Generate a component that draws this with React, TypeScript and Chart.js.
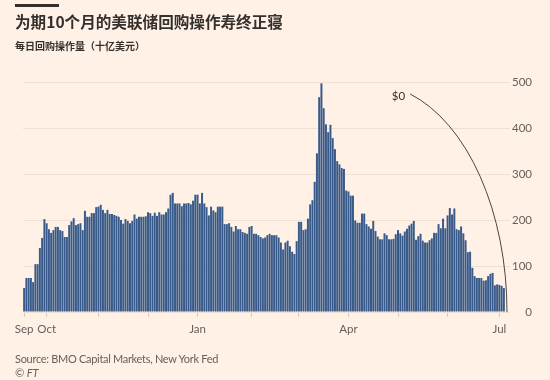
import React, { useEffect, useRef } from 'react';
import { Chart, registerables } from 'chart.js';

Chart.register(...registerables);

// ---- Text ----
const TITLE = '为期10个月的美联储回购操作寿终正寝';
const SUBTITLE = '每日回购操作量（十亿美元）';
const SOURCE = 'Source: BMO Capital Markets, New York Fed';
const CREDIT = '© FT';
const ZERO_LABEL = '$0';

// ---- Data: daily repo operations ($bn), one bar per business day ----
const sep = [52, 74, 74, 74, 65, 104, 104, 139, 161, 202];
const oct = [193, 180, 172, 178, 185, 185, 178, 176, 163, 163, 189, 197, 204, 189, 191, 193, 178, 220, 207, 207, 215, 215, 228];
const nov = [229, 233, 222, 215, 222, 213, 213, 211, 209, 207, 200, 192, 202, 198, 193, 198, 212, 203, 207, 207, 207, 208];
const dec = [217, 215, 209, 216, 209, 217, 212, 212, 217, 225, 255, 259, 236, 236, 236, 230, 236, 236, 237, 234, 242, 255];
const jan = [255, 236, 259, 236, 228, 210, 229, 221, 217, 229, 229, 229, 191, 191, 193, 185, 175, 187, 180, 180, 174, 172, 170, 185];
const feb = [187, 170, 170, 167, 163, 160, 162, 167, 170, 167, 167, 167, 162, 151, 136, 151, 155, 143, 131, 126, 154];
const mar = [196, 196, 178, 180, 203, 234, 243, 283, 345, 467, 497, 443, 408, 391, 407, 378, 354, 328, 321, 313, 311, 264];
const apr = [262, 253, 253, 199, 194, 194, 214, 214, 191, 186, 181, 198, 176, 164, 158, 158, 171, 167, 158, 158, 159, 169];
const may = [178, 171, 166, 175, 181, 188, 192, 198, 157, 165, 170, 155, 151, 151, 156, 160, 172, 172, 191, 182, 203, 182];
const jun = [210, 226, 212, 225, 180, 178, 186, 171, 156, 130, 131, 96, 78, 74, 74, 74, 68, 69, 78, 83, 85, 58, 60];
const jul = [59, 57, 52];

const months = [sep, oct, nov, dec, jan, feb, mar, apr, may, jun, jul];
const monthLabels = ['Sep', 'Oct', '', '', 'Jan', '', '', 'Apr', '', '', 'Jul'];
const yTickValues = [0, 100, 200, 300, 400, 500];

// ---- Style ----
const BG = '#fff1e5';
const BAR = '#375a8a';
const GRID = '#f1e0d2';
const TICK = '#d8cabd';
const AXIS_TEXT = '#66605c';
const DARK = '#33302e';
const LATIN = 'Lato, "Noto Sans", sans-serif';
const CJK = '"Noto Sans CJK SC", "Noto Sans", sans-serif';

export default function App() {
  const ref = useRef<HTMLCanvasElement>(null);

  useEffect(() => {
    document.body.style.margin = '0';
    document.body.style.background = BG;

    const values: number[] = [];
    const monthStarts: number[] = [];
    months.forEach((m) => {
      monthStarts.push(values.length);
      values.push(...m);
    });
    const labels = values.map((_, i) => String(i));

    const zeroCurve = {
      id: 'zeroCurve',
      afterDatasetsDraw(chart: any) {
        const { ctx, chartArea, scales } = chart;
        const y0 = scales.y.getPixelForValue(0);
        const endX = chartArea.right + 2;
        const rx = 137;
        const ry = 228;
        const cx = endX - rx;
        const start = -1.274;
        ctx.save();
        ctx.strokeStyle = '#4a4542';
        ctx.lineWidth = 1;
        ctx.beginPath();
        ctx.ellipse(cx, y0, rx, ry, 0, start, 0);
        ctx.stroke();
        const sx = cx + rx * Math.cos(start);
        const sy = y0 + ry * Math.sin(start);
        ctx.fillStyle = DARK;
        ctx.font = `11.5px ${LATIN}`;
        ctx.textAlign = 'right';
        ctx.textBaseline = 'middle';
        ctx.fillText(ZERO_LABEL, sx - 5, sy + 2);
        ctx.restore();
      },
    };

    const chart = new Chart(ref.current as HTMLCanvasElement, {
      type: 'bar',
      data: {
        labels,
        datasets: [
          {
            data: values,
            backgroundColor: BAR,
            borderWidth: 0,
            barPercentage: 0.88,
            categoryPercentage: 1,
          },
        ],
      },
      options: {
        animation: false,
        responsive: false,
        maintainAspectRatio: false,
        layout: { padding: { left: 23, right: 18, top: 82, bottom: 28 } },
        plugins: { legend: { display: false }, tooltip: { enabled: false } },
        scales: {
          x: {
            type: 'category',
            offset: true,
            grid: { offset: false, drawOnChartArea: false, drawTicks: true, tickLength: 5, color: TICK },
            border: { display: false },
            afterBuildTicks: (scale: any) => {
              scale.ticks = monthStarts.map((v) => ({ value: v }));
            },
            afterFit: (scale: any) => {
              scale.height = 40;
            },
            ticks: {
              autoSkip: false,
              maxRotation: 0,
              minRotation: 0,
              padding: 5,
              color: AXIS_TEXT,
              font: { family: LATIN, size: 11.5 },
              callback: (value: any) => {
                const k = monthStarts.indexOf(Number(value));
                return k >= 0 ? monthLabels[k] : '';
              },
            },
          },
          y: {
            position: 'right',
            min: 0,
            max: 500,
            afterBuildTicks: (scale: any) => {
              scale.ticks = yTickValues.map((v) => ({ value: v }));
            },
            afterFit: (scale: any) => {
              scale.width = 27;
            },
            grid: { color: GRID, drawTicks: true, tickLength: 5, lineWidth: 1 },
            border: { display: false },
            ticks: {
              crossAlign: 'far',
              color: AXIS_TEXT,
              font: { family: LATIN, size: 11.5 },
            },
          },
        },
      },
      plugins: [zeroCurve],
    } as any);

    return () => chart.destroy();
  }, []);

  const abs = (style: React.CSSProperties): React.CSSProperties => ({
    position: 'absolute',
    whiteSpace: 'nowrap',
    margin: 0,
    ...style,
  });

  return (
    <div style={{ position: 'relative', width: 550, height: 380, background: BG, overflow: 'hidden' }}>
      <canvas ref={ref} width={550} height={380} style={{ position: 'absolute', left: 0, top: 0, width: 550, height: 380 }} />
      <div style={abs({ left: 15, top: 4, width: 44, height: 3, background: DARK })} />
      <div
        style={abs({
          left: 15,
          top: 13.5,
          fontFamily: CJK,
          fontWeight: 700,
          fontSize: 15.6,
          lineHeight: '15.6px',
          color: DARK,
        })}
      >
        {TITLE}
      </div>
      <div
        style={abs({
          left: 15,
          top: 40.8,
          fontFamily: CJK,
          fontWeight: 700,
          fontSize: 10,
          lineHeight: '10px',
          color: DARK,
        })}
      >
        {SUBTITLE}
      </div>
      <div
        style={abs({
          left: 15,
          top: 351.5,
          fontFamily: LATIN,
          fontSize: 11,
          letterSpacing: '-0.3px',
          lineHeight: '13px',
          color: AXIS_TEXT,
        })}
      >
        {SOURCE}
      </div>
      <div
        style={abs({
          left: 15,
          top: 365.5,
          fontFamily: LATIN,
          fontStyle: 'italic',
          fontSize: 11,
          lineHeight: '13px',
          color: AXIS_TEXT,
        })}
      >
        {CREDIT}
      </div>
    </div>
  );
}
